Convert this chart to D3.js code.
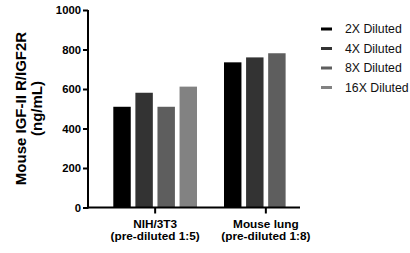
<!DOCTYPE html>
<html>
<head>
<meta charset="utf-8">
<script src="https://cdn.jsdelivr.net/npm/d3@7"></script>
<style>
  body { margin: 0; background: #fff; }
  text { font-family: "Liberation Sans", Arial, sans-serif; }
</style>
</head>
<body>
<div id="chart"></div>
<script>
// data
const categories = ['NIH/3T3|(pre-diluted 1:5)', 'Mouse lung|(pre-diluted 1:8)'];
const seriesNames = ['2X Diluted', '4X Diluted', '8X Diluted', '16X Diluted'];
const seriesColors = ['#000000', '#333333', '#5e5e5e', '#828282'];
const nihValues = [510, 581, 510, 612];
const lungValues = [735, 760, 781, null];
const yTicks = [0, 200, 400, 600, 800, 1000];

const width = 410, height = 253;
const plotLeft = 88, plotRight = 300, plotTop = 10, plotBottom = 207.5;

const svg = d3.select('#chart')
    .append('svg')
    .attr('width', width)
    .attr('height', height);

const scaleX = d3.scaleBand().domain(categories).range([plotLeft, 333]).paddingInner(0.244).paddingOuter(0.2286);
const scaleSub = d3.scaleBand().domain(seriesNames).range([0, scaleX.bandwidth()]).paddingInner(0.21);
const scaleY = d3.scaleLinear().domain([0, 1000]).range([plotBottom, plotTop]);

const rows = [nihValues, lungValues];

// bars
categories.forEach((c, ci) => {
    const g = svg.append('g').attr('transform', 'translate(' + scaleX(c) + ',0)');
    g.selectAll('rect')
        .data(seriesNames.map((s, si) => ({s: s, v: rows[ci][si], color: seriesColors[si]})).filter(d => d.v != null))
        .enter()
        .append('rect')
        .attr('x', d => scaleSub(d.s))
        .attr('width', scaleSub.bandwidth())
        .attr('y', d => scaleY(d.v))
        .attr('height', d => scaleY(0) - scaleY(d.v))
        .style('fill', d => d.color);
});

// y axis
const yAxis = d3.axisLeft(scaleY).tickValues(yTicks).tickFormat(d3.format('d')).tickSize(5).tickPadding(2);
const yAxisGroup = svg.append('g')
    .attr('transform', 'translate(' + plotLeft + ',0)')
    .call(yAxis);
yAxisGroup.select('.domain').attr('stroke-width', 2).attr('d', 'M0,' + (plotBottom + 1) + 'V' + plotTop);
yAxisGroup.selectAll('.tick line').attr('stroke-width', 2);
yAxisGroup.selectAll('.tick text')
    .style('font-family', '"Liberation Sans", Arial, sans-serif')
    .style('font-size', '11.3px')
    .style('font-weight', 'bold')
    .attr('fill', '#000');

// x axis
const xAxis = d3.axisBottom(scaleX).tickSize(6).tickFormat('');
const xAxisGroup = svg.append('g')
    .attr('transform', 'translate(0,' + plotBottom + ')')
    .call(xAxis);
xAxisGroup.select('.domain').attr('stroke-width', 2).attr('d', 'M' + (plotLeft - 1) + ',0H' + plotRight);
xAxisGroup.selectAll('.tick line').attr('stroke-width', 2);

categories.forEach(c => {
    const parts = c.split('|');
    const cx = scaleX(c) + scaleX.bandwidth() / 2;
    const t = svg.append('text')
        .attr('y', 227.5)
        .style('text-anchor', 'middle')
        .style('font-size', '11.8px')
        .style('font-weight', 'bold');
    t.append('tspan').attr('x', cx).attr('dy', 0).text(parts[0]);
    t.append('tspan').attr('x', cx).attr('dy', 12.8).text(parts[1]);
});

// y axis title
const yTitle = svg.append('text')
    .attr('transform', 'translate(25.5,108.5) rotate(-90)')
    .style('text-anchor', 'middle')
    .style('font-size', '15px')
    .style('font-weight', 'bold');
yTitle.append('tspan').attr('x', 0).attr('dy', 0).text('Mouse IGF-II R/IGF2R');
yTitle.append('tspan').attr('x', 0).attr('dy', 16.5).text('(ng/mL)');

// legend
const legend = svg.append('g').attr('transform', 'translate(321,29)');
seriesNames.forEach((s, i) => {
    legend.append('rect')
        .attr('x', 0)
        .attr('y', i * 19.5 - 1.5)
        .attr('width', 11)
        .attr('height', 3)
        .style('fill', seriesColors[i]);
    legend.append('text')
        .attr('x', 24)
        .attr('y', i * 19.5 + 4.3)
        .style('font-size', '12.3px')
        .style('fill', '#111')
        .text(s);
});
</script>
</body>
</html>
